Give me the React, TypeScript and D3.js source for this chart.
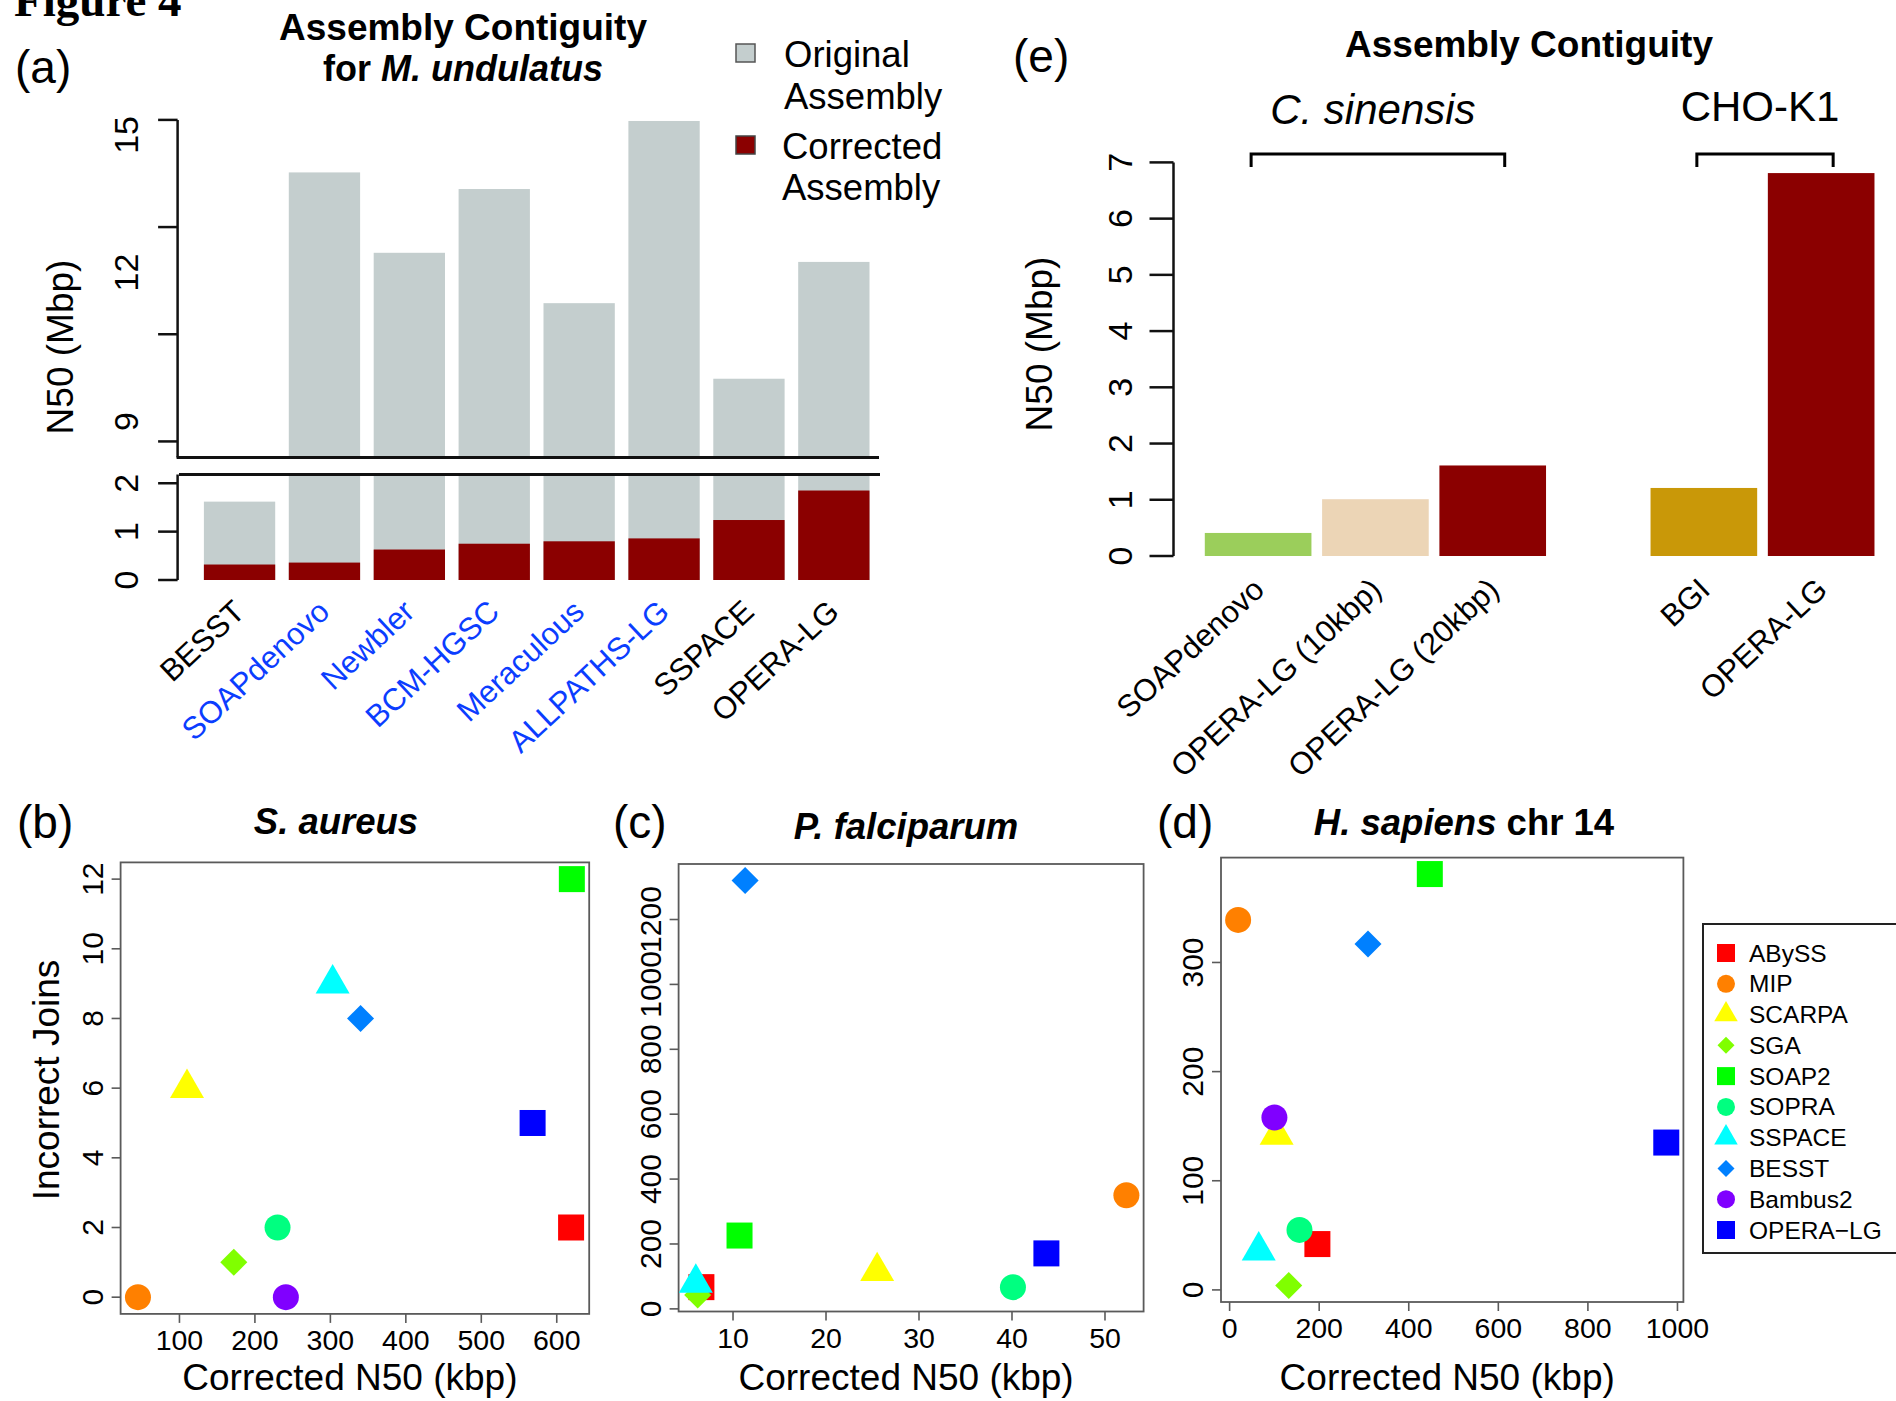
import * as d3 from "d3";
import React from "react";

const FONT = "Liberation Sans, Arial, Helvetica, sans-serif";

// ---- (a) M. undulatus ----
const assemblers = ["BESST", "SOAPdenovo", "Newbler", "BCM-HGSC", "Meraculous", "ALLPATHS-LG", "SSPACE", "OPERA-LG"];
const originalN50 = [1.62, 14.02, 12.52, 13.71, 11.58, 14.98, 10.17, 12.35];
const correctedN50 = [0.32, 0.36, 0.63, 0.75, 0.8, 0.86, 1.24, 1.85];
const labelIsBlue = [false, true, true, true, true, true, false, false];
const upperTicks = [9, 11, 13, 15];
const upperTickLabels = ["15", "12", "9"];
const upperTickLabelAt = [14.72, 12.15, 9.37];
const lowerTicks = [0, 1, 2];

// ---- (e) C. sinensis / CHO-K1 ----
const eGroups = ["C. sinensis", "CHO-K1"];
const eAssemblies = ["SOAPdenovo", "OPERA-LG (10kbp)", "OPERA-LG (20kbp)", "BGI", "OPERA-LG"];
const eGroupOf = [0, 0, 0, 1, 1];
const eN50 = [0.41, 1.01, 1.61, 1.21, 6.81];
const eColors = ["#9bce5b", "#ecd5b6", "#8b0000", "#c99808", "#8b0000"];
const eTicks = [0, 1, 2, 3, 4, 5, 6, 7];

// ---- (b)-(d) scatter ----
const tools = ["ABySS", "MIP", "SCARPA", "SGA", "SOAP2", "SOPRA", "SSPACE", "BESST", "Bambus2", "OPERA\u2212LG"];
const toolShapes = ["square", "circle", "triangle", "diamond", "square", "circle", "triangle", "diamond", "circle", "square"];
const toolColors = ["#ff0000", "#ff8000", "#ffff00", "#80ff00", "#00ff00", "#00ff80", "#00ffff", "#0080ff", "#8000ff", "#0000ff"];

const saureusN50 = [619, 45, 110, 172, 620, 230, 303, 340, 241, 568];
const saureusJoins = [2, 0, 6, 1, 12, 2, 9, 8, 0, 5];
const pfalcN50 = [6.6, 52.3, 25.5, 6.2, 10.7, 40.1, 6.0, 11.3, null, 43.7];
const pfalcJoins = [67, 350, 116, 43, 226, 67, 80, 1320, null, 171];
const hsapN50 = [196, 19, 105, 132, 447, 156, 65, 309, 100, 975];
const hsapJoins = [42, 339, 142, 4, 381, 55, 36, 317, 158, 135];

const saureusXTicks = [100, 200, 300, 400, 500, 600];
const saureusYTicks = [0, 2, 4, 6, 8, 10, 12];
const pfalcXTicks = [10, 20, 30, 40, 50];
const pfalcYTicks = [0, 200, 400, 600, 800, 1000, 1200];
const hsapXTicks = [0, 200, 400, 600, 800, 1000];
const hsapYTicks = [0, 100, 200, 300];

// R style 4% axis padding
const padded = (vals) => {
  const ext = d3.extent(vals.filter((v) => v != null));
  const r = ext[1] - ext[0];
  return [ext[0] - 0.04 * r, ext[1] + 0.04 * r];
};

function Marker({ shape, cx, cy, s, color }) {
  if (shape === "square") return <rect x={cx - s} y={cy - s} width={2 * s} height={2 * s} fill={color} />;
  if (shape === "circle") return <circle cx={cx} cy={cy} r={s} fill={color} />;
  if (shape === "triangle") {
    const t = s * 0.97;
    const xc = 1.347 * t, r = 1.555 * t, yc = 0.778 * t;
    return <path d={`M${cx},${cy - r}L${cx + xc},${cy + yc}L${cx - xc},${cy + yc}Z`} fill={color} />;
  }
  const h = s * 1.04;
  return <path d={`M${cx},${cy - h}L${cx + h},${cy}L${cx},${cy + h}L${cx - h},${cy}Z`} fill={color} />;
}

function PanelA() {
  const axisX = 177.6;
  const x = d3.scaleBand().domain(assemblers).range([197.1, 876.3]).paddingInner(0.16).paddingOuter(0.08);
  const yUp = d3.scaleLinear().domain([8.7, 15]).range([457.5, 119.9]);
  const yLow = d3.scaleLinear().domain([0, 2.15]).range([580, 476]);
  const gray = "#c4cece";
  const red = "#8b0000";
  return (
    <g>
      <text x={15} y={83} fontSize={46}>(a)</text>
      <text x={463} y={40} fontSize={37} fontWeight="bold" textAnchor="middle">Assembly Contiguity</text>
      <text x={463} y={81} fontSize={36} fontWeight="bold" textAnchor="middle">
        for <tspan fontStyle="italic">M. undulatus</tspan>
      </text>
      {assemblers.map((a, i) => {
        const x0 = x(a);
        const w = x.bandwidth();
        const o = originalN50[i];
        return (
          <g key={a}>
            {o > 2.15 ? (
              <>
                <rect x={x0} y={yUp(o)} width={w} height={yUp(8.7) - yUp(o)} fill={gray} />
                <rect x={x0} y={yLow(2.15)} width={w} height={yLow(0) - yLow(2.15)} fill={gray} />
              </>
            ) : (
              <rect x={x0} y={yLow(o)} width={w} height={yLow(0) - yLow(o)} fill={gray} />
            )}
            <rect x={x0} y={yLow(correctedN50[i])} width={w} height={yLow(0) - yLow(correctedN50[i])} fill={red} />
            <text
              transform={`translate(${x0 + w / 2 + 7},614) rotate(-43)`}
              textAnchor="end"
              fontSize={31}
              fill={labelIsBlue[i] ? "#0b3dff" : "#000"}
            >
              {a}
            </text>
          </g>
        );
      })}
      {/* axis with break */}
      <line x1={axisX} x2={axisX} y1={yUp(15)} y2={457.5} stroke="#111" strokeWidth={2.5} />
      <line x1={axisX} x2={axisX} y1={474.5} y2={yLow(0)} stroke="#111" strokeWidth={2.5} />
      <line x1={axisX - 1} x2={879} y1={457.5} y2={457.5} stroke="#111" strokeWidth={3} />
      <line x1={179} x2={880} y1={474.5} y2={474.5} stroke="#111" strokeWidth={3} />
      {upperTicks.map((t) => (
        <line key={t} x1={axisX - 19.5} x2={axisX} y1={yUp(t)} y2={yUp(t)} stroke="#111" strokeWidth={2.5} />
      ))}
      {upperTickLabels.map((l, i) => (
        <text key={l} transform={`translate(138,${yUp(upperTickLabelAt[i])}) rotate(-90)`} textAnchor="middle" fontSize={34}>
          {l}
        </text>
      ))}
      {lowerTicks.map((t) => (
        <g key={t}>
          <line x1={axisX - 19.5} x2={axisX} y1={yLow(t)} y2={yLow(t)} stroke="#111" strokeWidth={2.5} />
          <text transform={`translate(138,${yLow(t)}) rotate(-90)`} textAnchor="middle" fontSize={34}>
            {t}
          </text>
        </g>
      ))}
      <text transform="translate(73,347) rotate(-90)" textAnchor="middle" fontSize={37}>N50 (Mbp)</text>
      {/* legend */}
      <rect x={736} y={44} width={19} height={18} fill={gray} stroke="#555" strokeWidth={1.5} />
      <text x={784} y={67} fontSize={36.5}>Original</text>
      <text x={784} y={109} fontSize={36.5}>Assembly</text>
      <rect x={736} y={136} width={19} height={18} fill={red} stroke="#444" strokeWidth={1.5} />
      <text x={782} y={159} fontSize={36.5}>Corrected</text>
      <text x={782} y={200} fontSize={36.5}>Assembly</text>
    </g>
  );
}

function PanelE() {
  const axisX = 1173.5;
  const step = 117.3;
  const slot = (i) => i + (eGroupOf[i] ? 0.8 : 0);
  const x = d3.scaleLinear().domain([0, 1]).range([1204.8, 1204.8 + step]);
  const bw = step / 1.1;
  const y = d3.scaleLinear().domain([0, 7]).range([556, 162.4]);
  return (
    <g>
      <text x={1013} y={72} fontSize={46}>(e)</text>
      <text x={1529} y={57} fontSize={37} fontWeight="bold" textAnchor="middle">Assembly Contiguity</text>
      {eGroups.map((g, gi) => {
        const idx = eAssemblies.map((_, i) => i).filter((i) => eGroupOf[i] === gi);
        const xa = x(slot(idx[0])) + bw / 2 - 7;
        const xb = x(slot(idx[idx.length - 1])) + bw / 2 + 12;
        return (
          <g key={g}>
            <path d={`M${xa},167V154H${xb}V167`} fill="none" stroke="#000" strokeWidth={3} />
            <text x={(xa + xb) / 2 - 5} y={gi === 0 ? 124 : 121} fontSize={42} textAnchor="middle" fontStyle={gi === 0 ? "italic" : "normal"}>
              {g}
            </text>
          </g>
        );
      })}
      {eAssemblies.map((a, i) => {
        const x0 = x(slot(i));
        return (
          <g key={a + i}>
            <rect x={x0} y={y(eN50[i])} width={bw} height={y(0) - y(eN50[i])} fill={eColors[i]} />
            <text transform={`translate(${x0 + bw / 2 + 8},592) rotate(-43)`} textAnchor="end" fontSize={31}>
              {a}
            </text>
          </g>
        );
      })}
      <line x1={axisX} x2={axisX} y1={y(7)} y2={y(0)} stroke="#111" strokeWidth={2.5} />
      {eTicks.map((t) => (
        <g key={t}>
          <line x1={axisX - 24} x2={axisX} y1={y(t)} y2={y(t)} stroke="#111" strokeWidth={2.5} />
          <text transform={`translate(1132,${y(t)}) rotate(-90)`} textAnchor="middle" fontSize={34}>
            {t}
          </text>
        </g>
      ))}
      <text transform="translate(1052,344) rotate(-90)" textAnchor="middle" fontSize={37}>N50 (Mbp)</text>
    </g>
  );
}

function Scatter({ left, right, top, bottom, xs, ys, xTicks, yTicks, title, titleX, titleY, letter, letterX, yTitle }) {
  const x = d3.scaleLinear().domain(padded(xs)).range([left, right]);
  const y = d3.scaleLinear().domain(padded(ys)).range([bottom, top]);
  const stroke = "#5a5a5a";
  return (
    <g>
      <text x={letterX} y={838} fontSize={46}>{letter}</text>
      <text x={titleX} y={titleY} fontSize={36.5} fontWeight="bold" textAnchor="middle">{title}</text>
      <rect x={left} y={top} width={right - left} height={bottom - top} fill="none" stroke={stroke} strokeWidth={1.8} />
      {xTicks.map((t) => (
        <g key={"x" + t}>
          <line x1={x(t)} x2={x(t)} y1={bottom} y2={bottom + 9} stroke={stroke} strokeWidth={1.6} />
          <text x={x(t)} y={bottom + 36} fontSize={28.5} textAnchor="middle">{t}</text>
        </g>
      ))}
      {yTicks.map((t) => (
        <g key={"y" + t}>
          <line x1={left - 9} x2={left} y1={y(t)} y2={y(t)} stroke={stroke} strokeWidth={1.6} />
          <text transform={`translate(${left - 18},${y(t)}) rotate(-90)`} fontSize={30} textAnchor="middle">{t}</text>
        </g>
      ))}
      {tools.map((tool, i) =>
        xs[i] == null ? null : (
          <Marker key={tool} shape={toolShapes[i]} cx={x(xs[i])} cy={y(ys[i])} s={13} color={toolColors[i]} />
        )
      )}
      <text x={(left + right) / 2 - 5} y={1390} fontSize={37} textAnchor="middle">Corrected N50 (kbp)</text>
      {yTitle ? (
        <text transform={`translate(59,1080) rotate(-90)`} fontSize={37} textAnchor="middle">{yTitle}</text>
      ) : null}
    </g>
  );
}

function ToolLegend() {
  const row = d3.scaleLinear().domain([0, tools.length - 1]).range([953, 1230]);
  return (
    <g>
      <rect x={1703} y={924} width={260} height={329} fill="#fff" stroke="#222" strokeWidth={2} />
      {tools.map((t, i) => (
        <g key={t}>
          <Marker shape={toolShapes[i]} cx={1726} cy={row(i)} s={toolShapes[i] === "diamond" ? 8.2 : 9} color={toolColors[i]} />
          <text x={1749} y={row(i) + 8.5} fontSize={24.5}>{t}</text>
        </g>
      ))}
    </g>
  );
}

export default function App() {
  return (
    <svg width={1896} height={1401} style={{ position: "absolute", left: 0, top: 0, display: "block" }} fontFamily={FONT}>
      <rect width={1896} height={1401} fill="#fff" />
      <text x={14} y={16} fontFamily="Liberation Serif, Times New Roman, serif" fontWeight="bold" fontSize={47}>
        Figure 4
      </text>
      <PanelA />
      <PanelE />
      <Scatter
        left={120.6} right={589.2} top={862.4} bottom={1313.9}
        xs={saureusN50} ys={saureusJoins} xTicks={saureusXTicks} yTicks={saureusYTicks}
        title={<tspan fontStyle="italic">S. aureus</tspan>} titleX={336} titleY={834}
        letter="(b)" letterX={17} yTitle="Incorrect Joins"
      />
      <Scatter
        left={678.6} right={1143.6} top={864} bottom={1311.5}
        xs={pfalcN50} ys={pfalcJoins} xTicks={pfalcXTicks} yTicks={pfalcYTicks}
        title={<tspan fontStyle="italic">P. falciparum</tspan>} titleX={906} titleY={839}
        letter="(c)" letterX={613}
      />
      <Scatter
        left={1221} right={1683.4} top={857.6} bottom={1302}
        xs={hsapN50} ys={hsapJoins} xTicks={hsapXTicks} yTicks={hsapYTicks}
        title={<><tspan fontStyle="italic">H. sapiens</tspan> chr 14</>} titleX={1464} titleY={835}
        letter="(d)" letterX={1157}
      />
      <ToolLegend />
    </svg>
  );
}
